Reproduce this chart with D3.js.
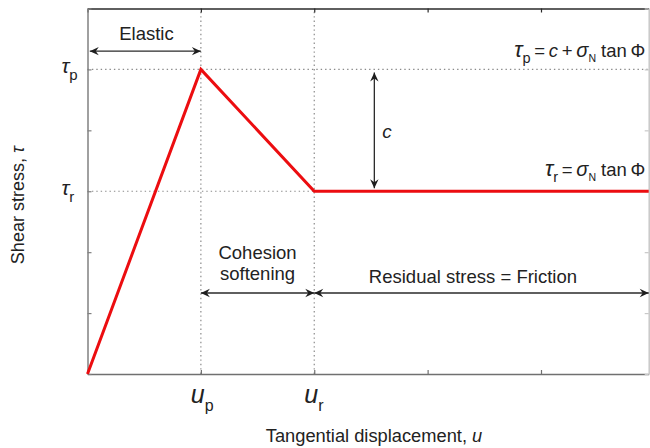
<!DOCTYPE html>
<html>
<head>
<meta charset="utf-8">
<script src="https://cdn.jsdelivr.net/npm/d3@7"></script>
<style>
  html, body { margin: 0; padding: 0; background: #fff; }
  svg { display: block; font-family: "Liberation Sans", Arial, Helvetica, sans-serif; }
</style>
</head>
<body>
<svg id="chart" width="650" height="448"></svg>
<script>
// Axis limits (displacement u, shear stress tau) in normalised units
const xLimits = [0, 4.95];
const yLimits = [0, 6];
const xTicks = [0, 1, 2, 3, 4];
const yTicks = [0, 1, 2, 3, 4, 5, 6];

// Key points of the stress-displacement law
const uPeak = 1, uResidual = 2;
const tauPeak = 5, tauResidual = 3;

// Red constitutive curve: elastic rise, cohesion softening, residual friction
const curveU = [0, uPeak, uResidual, xLimits[1]];
const curveTau = [0, tauPeak, tauResidual, tauResidual];

// Tick labels (symbol, subscript) placed at the named positions
const xTickLabels = [{ v: uPeak, sym: "u", sub: "p" }, { v: uResidual, sym: "u", sub: "r" }];
const yTickLabels = [{ v: tauPeak, sym: "τ", sub: "p" }, { v: tauResidual, sym: "τ", sub: "r" }];

// Double-headed dimension arrows, in data units
const arrows = [
  { x1: 0.02, y1: 5.3, x2: uPeak, y2: 5.3 },                  // Elastic
  { x1: 2.53, y1: tauPeak - 0.05, x2: 2.53, y2: tauResidual + 0.05 }, // c
  { x1: uPeak, y1: 1.33, x2: uResidual, y2: 1.33 },            // Cohesion softening
  { x1: uResidual, y1: 1.33, x2: xLimits[1], y2: 1.33 }        // Residual stress
];

const svg = d3.select("#chart");
const margin = { left: 87.5, right: 1.3, top: 8.5, bottom: 74 };
const W = 650, H = 448;

const x = d3.scaleLinear().domain(xLimits).range([margin.left, W - margin.right]);
const y = d3.scaleLinear().domain(yLimits).range([H - margin.bottom, margin.top]);

// Dotted reference lines at the peak and residual points
const grid = svg.append("g")
  .attr("stroke", "#8a8a8a").attr("stroke-width", 1.2)
  .attr("stroke-dasharray", "1.4,3").attr("fill", "none");
[uPeak, uResidual].forEach(u => {
  grid.append("line").attr("x1", x(u)).attr("x2", x(u))
    .attr("y1", y(yLimits[0])).attr("y2", y(yLimits[1]));
});
[tauPeak, tauResidual].forEach(t => {
  grid.append("line").attr("x1", x(xLimits[0])).attr("x2", x(xLimits[1]))
    .attr("y1", y(t)).attr("y2", y(t));
});

// Box axes with inward ticks and no numeric labels
const blank = () => "";
function styleAxis(g, color) {
  g.selectAll("path.domain").attr("stroke", color).attr("stroke-width", 1.5);
  g.selectAll(".tick line").attr("stroke", color).attr("stroke-width", 1.2);
  g.selectAll("text").remove();
}
svg.append("g").attr("transform", `translate(0,${y(yLimits[0])})`)
  .call(d3.axisBottom(x).tickValues(xTicks).tickSizeInner(-4).tickSizeOuter(0).tickFormat(blank))
  .call(g => styleAxis(g, "#707070"));
svg.append("g").attr("transform", `translate(0,${y(yLimits[1])})`)
  .call(d3.axisTop(x).tickValues(xTicks).tickSizeInner(-4).tickSizeOuter(0).tickFormat(blank))
  .call(g => styleAxis(g, "#2a2a2a"));
svg.append("g").attr("transform", `translate(${x(xLimits[0])},0)`)
  .call(d3.axisLeft(y).tickValues(yTicks).tickSizeInner(-4).tickSizeOuter(0).tickFormat(blank))
  .call(g => styleAxis(g, "#808080"));
svg.append("g").attr("transform", `translate(${x(xLimits[1])},0)`)
  .call(d3.axisRight(y).tickValues(yTicks).tickSizeInner(-4).tickSizeOuter(0).tickFormat(blank))
  .call(g => styleAxis(g, "#c8c8c8"));

// Constitutive curve
const line = d3.line().x(d => x(d[0])).y(d => y(d[1]));
svg.append("path")
  .datum(d3.zip(curveU, curveTau))
  .attr("d", line)
  .attr("fill", "none").attr("stroke", "#ec0d10").attr("stroke-width", 3)
  .attr("stroke-linejoin", "miter");

// Arrowhead marker (concave, filled)
const defs = svg.append("defs");
defs.append("marker")
  .attr("id", "head").attr("viewBox", "-10 -5 12 10")
  .attr("refX", 0).attr("refY", 0)
  .attr("markerWidth", 12).attr("markerHeight", 10)
  .attr("markerUnits", "userSpaceOnUse")
  .attr("orient", "auto-start-reverse")
  .append("path").attr("d", "M0,0 L-9,-4.2 L-6,0 L-9,4.2 Z").attr("fill", "#1e1e1e");

svg.append("g").selectAll("line").data(arrows).join("line")
  .attr("x1", d => x(d.x1)).attr("y1", d => y(d.y1))
  .attr("x2", d => x(d.x2)).attr("y2", d => y(d.y2))
  .attr("stroke", "#2a2a2a").attr("stroke-width", 1.3)
  .attr("marker-start", "url(#head)").attr("marker-end", "url(#head)");

// Plain annotation texts
const notes = [
  { text: "Elastic", x: 0.52, y: 5.48, anchor: "middle" },
  { text: "Cohesion", x: 1.5, y: 1.88, anchor: "middle" },
  { text: "softening", x: 1.5, y: 1.55, anchor: "middle" },
  { text: "Residual stress = Friction", x: 3.4, y: 1.49, anchor: "middle" }
];
svg.append("g").selectAll("text").data(notes).join("text")
  .attr("x", d => x(d.x)).attr("y", d => y(d.y))
  .attr("text-anchor", d => d.anchor)
  .attr("font-size", 18.5).attr("fill", "#222")
  .text(d => d.text);

// Cohesion symbol beside the vertical arrow
svg.append("text").attr("x", x(2.6)).attr("y", y(3.87))
  .attr("font-size", 19).attr("font-style", "italic").attr("fill", "#222").text("c");

// Tick labels with subscripts
const yl = svg.append("g").attr("fill", "#222");
yTickLabels.forEach(d => {
  const t = yl.append("text").attr("x", x(0) - 26).attr("y", y(d.v) + 4);
  t.append("tspan").attr("font-size", 21).attr("font-style", "italic").text(d.sym);
  t.append("tspan").attr("font-size", 15).attr("dy", 7).text(d.sub);
});
xTickLabels.forEach(d => {
  const t = yl.append("text").attr("x", x(d.v) - 10).attr("y", y(0) + 29);
  t.append("tspan").attr("font-size", 25).attr("font-style", "italic").text(d.sym);
  t.append("tspan").attr("font-size", 16).attr("dy", 8).text(d.sub);
});

// Formulas for peak and residual strength
function formula(yVal, sub, withC) {
  const t = svg.append("text").attr("x", x(4.92)).attr("y", y(yVal))
    .attr("text-anchor", "end").attr("fill", "#222").attr("font-size", 18.5);
  t.append("tspan").attr("font-size", 22).attr("font-style", "italic").text("τ");
  t.append("tspan").attr("font-size", 14.5).attr("dy", 6).text(sub);
  t.append("tspan").attr("dy", -6).text("\u2009=\u2009");
  if (withC) {
    t.append("tspan").attr("font-style", "italic").text("c");
    t.append("tspan").text("\u2009+\u2009");
  }
  t.append("tspan").attr("font-style", "italic").attr("font-size", 20).text("σ");
  t.append("tspan").attr("font-size", 10.5).attr("dy", 5).text("N");
  t.append("tspan").attr("dy", -5).text(" tan\u2009Φ");
}
formula(5.2, "p", true);
formula(3.25, "r", false);

// Axis titles
const xt = svg.append("text").attr("x", 374).attr("y", 442)
  .attr("text-anchor", "middle").attr("font-size", 18.3).attr("fill", "#222");
xt.append("tspan").text("Tangential displacement, ");
xt.append("tspan").attr("font-style", "italic").text("u");

const yt = svg.append("text")
  .attr("transform", `translate(24,${(y(yLimits[0]) + y(yLimits[1])) / 2 + 14}) rotate(-90)`)
  .attr("text-anchor", "middle").attr("font-size", 18).attr("fill", "#222");
yt.append("tspan").text("Shear stress, ");
yt.append("tspan").attr("font-style", "italic").text("τ");
</script>
</body>
</html>
